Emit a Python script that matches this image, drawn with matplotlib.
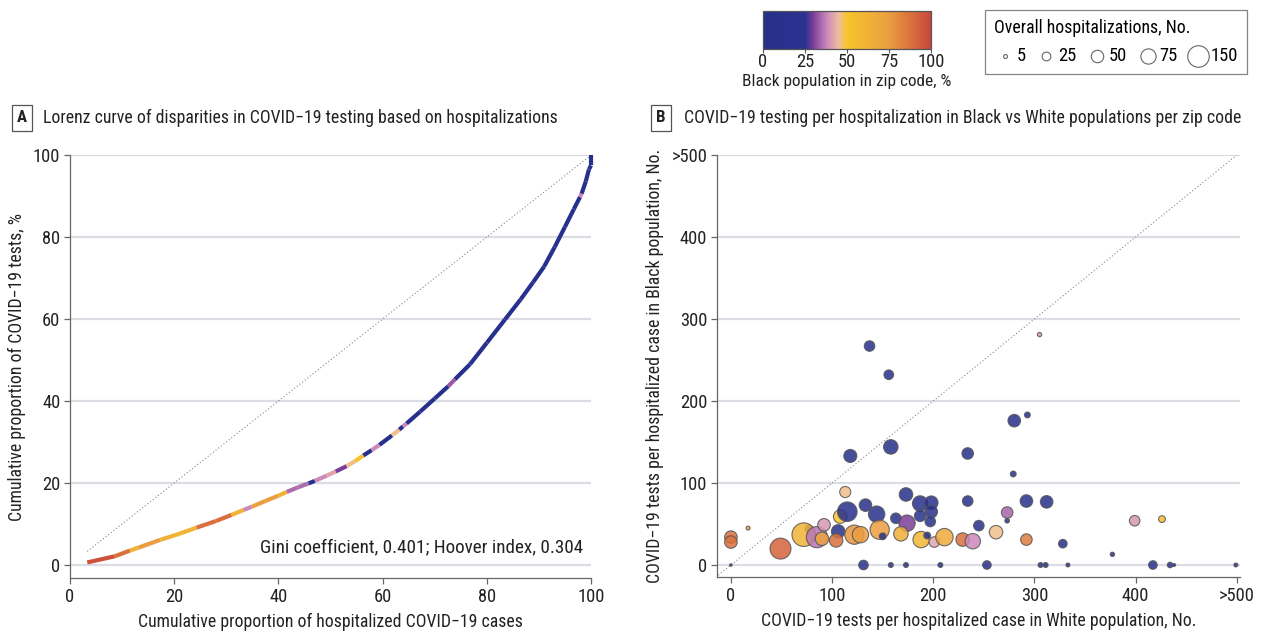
import numpy as np
import matplotlib.pyplot as plt
from matplotlib import font_manager
from matplotlib.colors import LinearSegmentedColormap, Normalize
from matplotlib.collections import LineCollection
from matplotlib.cm import ScalarMappable

# the reference uses a condensed face; take one if the machine has it
installed = {f.name for f in font_manager.fontManager.ttflist}
narrow = [n for n in ['Roboto Condensed', 'Liberation Sans Narrow', 'Open Sans Condensed',
                      'Noto Sans Condensed', 'DejaVu Sans Condensed', 'Arial Narrow']
          if n in installed]
if narrow:
    plt.rcParams['font.family'] = [narrow[0], 'DejaVu Sans']
    fs = 12.8
else:
    plt.rcParams['font.family'] = ['DejaVu Sans']
    fs = 10.5
fs_tick = fs * 1.04
plt.rcParams['font.size'] = fs

# colour scale for Black population share
cmap_pos = [0, 0.25, 0.30, 0.38, 0.45, 0.50, 0.75, 1.0]
cmap_hex = ['#25308a', '#2b3190', '#7d3f98', '#cc88bb', '#f0bca2', '#f7c52c', '#eb9f40', '#c9473a']
black_cmap = LinearSegmentedColormap.from_list('black_pct', list(zip(cmap_pos, cmap_hex)))
norm = Normalize(0, 100)

# panel A: Lorenz curve points, and Black % of the zip code for each segment
lor_x = [3.3, 8.6, 11.5, 13.1, 17.3, 21.0, 24.3, 28.0, 31.0, 33.3, 34.9, 37.5, 40.0, 41.6,
         43.7, 45.8, 47.0, 49.3, 51.0, 53.1, 54.7, 56.3, 57.9, 59.4, 61.8, 63.2, 63.9, 64.6,
         67.2, 70.0, 72.6, 73.9, 76.8, 80.0, 83.5, 86.5, 88.9, 91.0, 93.0, 95.0, 96.7, 97.9,
         98.2, 99.0, 99.6, 100.0, 100.0]
lor_y = [0.6, 2.1, 3.5, 4.2, 6.1, 7.6, 9.1, 10.7, 12.2, 13.4, 14.2, 15.6, 16.9, 17.8,
         18.9, 19.9, 20.5, 21.8, 22.8, 24.1, 25.3, 26.7, 28.0, 29.3, 31.6, 33.0, 33.8, 34.5,
         37.4, 40.6, 43.6, 45.3, 49.0, 54.2, 59.9, 64.8, 69.0, 72.8, 77.5, 82.5, 86.8, 89.8,
         90.6, 93.6, 96.5, 97.5, 100.0]
lor_black = [97, 88, 62, 75, 62, 62, 88, 88, 62, 38, 75, 75, 62, 35,
             35, 10, 38, 42, 30, 46, 52, 10, 38, 10, 46, 10, 38, 10,
             10, 10, 33, 10, 10, 10, 10, 10, 10, 10, 10, 10, 10, 38,
             10, 10, 10, 10]

# panel B: tests per hospitalized case, White (x) vs Black (y)
b_white = [118, 113, 108, 115, 133, 144, 0, 0, 17, 49, 77, 72, 85, 92, 90, 106, 104, 122,
           128, 147, 131, 0, 158, 234, 279, 173, 187, 198, 198, 187, 197, 234, 292, 163, 174,
           150, 168, 188, 194, 201, 211, 229, 239, 245, 262, 273, 273, 292, 158, 173, 207, 253,
           312, 328, 377, 399, 426, 306, 311, 333, 417, 434, 438, 499, 137, 156, 305, 280, 293]
b_black = [133, 89, 59, 65, 73, 62, 34, 28, 45, 20, 44, 37, 34, 49, 32, 41, 30, 37,
           37, 43, 0, 0, 144, 136, 111, 86, 75, 76, 65, 60, 53, 78, 78, 57, 51,
           35, 38, 31, 36, 28, 34, 31, 29, 48, 40, 64, 54, 31, 0, 0, 0, 0,
           77, 26, 13, 54, 56, 0, 0, 0, 0, 0, 0, 0, 267, 232, 281, 176, 183]
b_hosp = [55, 40, 59, 124, 51, 87, 51, 51, 5, 142, 19, 180, 145, 51, 59, 59, 59, 120,
          87, 120, 30, 2, 68, 43, 11, 59, 77, 59, 51, 43, 36, 36, 51, 36, 87,
          15, 68, 87, 15, 36, 98, 59, 77, 36, 59, 43, 7, 43, 8, 8, 8, 24,
          51, 24, 6, 36, 15, 8, 8, 5, 24, 10, 3, 5, 36, 30, 6, 51, 11]
b_pct = [10, 46, 52, 10, 10, 10, 88, 88, 70, 92, 10, 62, 36, 40, 72, 10, 88, 78,
         75, 75, 10, 10, 10, 10, 10, 10, 10, 10, 10, 10, 10, 10, 10, 10, 30,
         10, 65, 60, 10, 42, 68, 88, 38, 10, 46, 34, 10, 85, 10, 10, 10, 10,
         10, 10, 10, 40, 55, 10, 10, 10, 10, 10, 10, 10, 10, 10, 40, 10, 10]

legend_hosp = [5, 25, 50, 75, 150]
size_k = 1.6

fig = plt.figure(figsize=(12.62, 6.33), dpi=100)
grid_c = '#dcdce4'
spine_c = '#666666'
txt_c = '#222222'


def style_axes(ax):
    for s in ['top', 'right']:
        ax.spines[s].set_visible(False)
    for s in ['left', 'bottom']:
        ax.spines[s].set_color(spine_c)
        ax.spines[s].set_linewidth(0.9)
    ax.tick_params(direction='out', length=4, width=0.9, color=spine_c, labelsize=fs_tick,
                   labelcolor=txt_c, pad=3)
    ax.grid(axis='y', color=grid_c, linewidth=1.6)
    ax.set_axisbelow(True)


# ---- panel A
axA = fig.add_axes([0.0555, 0.0869, 0.4128, 0.668])
style_axes(axA)
axA.set_xlim(0, 100)
axA.set_ylim(-3.2, 100)
axA.set_xticks([0, 20, 40, 60, 80, 100])
axA.set_yticks([0, 20, 40, 60, 80, 100])
axA.plot([lor_x[0], 100], [lor_x[0], 100], ls=(0, (1, 2)), color='#888888', lw=0.8)
pts = np.column_stack([lor_x, lor_y])
segs = np.stack([pts[:-1], pts[1:]], axis=1)
lc = LineCollection(segs, colors=black_cmap(norm(lor_black)), linewidths=3.0,
                    capstyle='butt', clip_on=False, zorder=3)
axA.add_collection(lc)
axA.text(98.5, 4.4, 'Gini coefficient, 0.401; Hoover index, 0.304', ha='right', va='center',
         fontsize=fs * 1.08, color=txt_c)
axA.set_xlabel('Cumulative proportion of hospitalized COVID\u221219 cases', fontsize=fs,
               color=txt_c, labelpad=5)
axA.set_ylabel('Cumulative proportion of COVID\u221219 tests, %', fontsize=fs,
               color=txt_c, labelpad=5)

# ---- panel B
axB = fig.add_axes([0.5681, 0.0885, 0.4144, 0.6667])
style_axes(axB)
axB.set_xlim(-13.8, 503)
axB.set_ylim(-14.6, 500)
ticksB = [0, 100, 200, 300, 400, 500]
labB = ['0', '100', '200', '300', '400', '>500']
axB.set_xticks(ticksB, labB)
axB.set_yticks(ticksB, labB)
axB.plot([-15, 500], [-15, 500], ls=(0, (1, 2)), color='#888888', lw=0.8, zorder=1)
axB.scatter(b_white, b_black, s=np.array(b_hosp) * size_k, c=b_pct, cmap=black_cmap, norm=norm,
            alpha=0.85, edgecolors='#555555', linewidths=0.8, zorder=3, clip_on=False)
axB.set_xlabel('COVID\u221219 tests per hospitalized case in White population, No.',
               fontsize=fs, color=txt_c, labelpad=5)
axB.set_ylabel('COVID\u221219 tests per hospitalized case in Black population, No.',
               fontsize=fs, color=txt_c, labelpad=5)

# ---- panel titles
for bx, tx, letter, title in [
    (0.0174, 0.034, 'A', 'Lorenz curve of disparities in COVID\u221219 testing based on hospitalizations'),
    (0.5238, 0.542, 'B', 'COVID\u221219 testing per hospitalization in Black vs White populations per zip code'),
]:
    fig.text(bx, 0.8136, letter, ha='center', va='center', fontsize=fs * 0.95, fontweight='bold',
             color=txt_c,
             bbox=dict(boxstyle='square,pad=0.3', facecolor='white', edgecolor='#555555', lw=0.9))
    fig.text(tx, 0.8136, title, ha='left', va='center', fontsize=fs, color=txt_c)

# ---- colour bar
cax = fig.add_axes([0.6046, 0.9226, 0.1331, 0.06])
cb = fig.colorbar(ScalarMappable(norm=norm, cmap=black_cmap), cax=cax, orientation='horizontal')
cb.set_ticks([0, 25, 50, 75, 100])
cb.outline.set_edgecolor('#555555')
cb.outline.set_linewidth(0.9)
cax.tick_params(labelsize=fs_tick, length=3, color='#555555', labelcolor=txt_c, pad=0)
cb.set_label('Black population in zip code, %', fontsize=fs * 0.97, color=txt_c, labelpad=2)

# ---- size legend
handles = [plt.scatter([], [], s=h * size_k, facecolor='white', edgecolor='#666666', linewidths=0.8)
           for h in legend_hosp]
leg = fig.legend(handles, [str(h) for h in legend_hosp], loc='upper right',
                 bbox_to_anchor=(0.988, 0.984), borderaxespad=0, ncol=5,
                 title='Overall hospitalizations, No.',
                 title_fontsize=fs, fontsize=fs_tick, frameon=True, fancybox=False,
                 edgecolor='#666666', handletextpad=0.05, columnspacing=0.5, borderpad=0.5,
                 handlelength=1.2, alignment='left')
leg.get_frame().set_linewidth(0.9)

fig.savefig('out.png', dpi=100)
